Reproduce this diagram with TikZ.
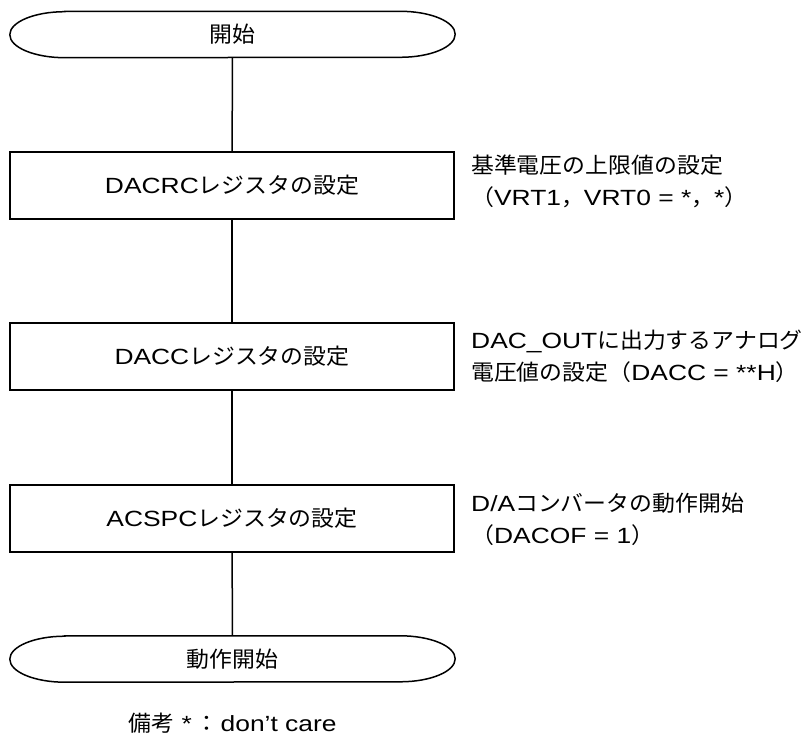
\documentclass[tikz,border=0pt]{standalone}
\usepackage{fontspec}
\setmainfont[FakeStretch=1.2]{Liberation Sans}
\newfontfamily\jpfont[FakeStretch=1.04]{Noto Sans CJK JP}
\newcommand{\jtxt}[1]{{\jpfont #1}}
\usetikzlibrary{positioning}
\tikzset{
    base/.style={font=\fontsize{22}{32}\selectfont, inner sep=0pt},
    term/.style={base, minimum width=445pt, minimum height=46pt},
    proc/.style={base, draw=black, line width=1.6pt, minimum width=444pt, minimum height=67pt},
    cmt/.style={base, anchor=west, align=left},
    flow/.style={line width=1.5pt, black}
}

\begin{document}
\begin{tikzpicture}[x=1pt, y=1pt]
        \useasboundingbox (0,0) rectangle (806,737);

        % Terminales
        \node[term] (start) at (232.5,702.5) {\jtxt{開始}};
        \node[term] (run) at (232.5,78) {\jtxt{動作開始}};
        \foreach \n in {start, run}
            \draw[flow] ([xshift=55pt]\n.north west) -- ([xshift=-55pt]\n.north east)
                arc[start angle=90, end angle=-90, x radius=55pt, y radius=23pt]
                -- ([xshift=55pt]\n.south west)
                arc[start angle=270, end angle=90, x radius=55pt, y radius=23pt] -- cycle;

        % Registros
        \node[proc] (dacrc) at (232,551.5) {DACRC\jtxt{レジスタの設定}};
        \node[proc] (dacc) at (232,380.5) {DACC\jtxt{レジスタの設定}};
        \node[proc] (acspc) at (232,218.5) {ACSPC\jtxt{レジスタの設定}};

        % Comentarios
        \node[cmt] (c1) at (471,556) {\jtxt{基準電圧の上限値の設定}\\\jtxt{（}VRT1\jtxt{，}VRT0 = *\jtxt{，}*\jtxt{）}};
        \node[cmt] (c2) at (471,381) {DAC\_OUT\jtxt{に出力するアナログ}\\\jtxt{電圧値の設定（}DACC = **H\jtxt{）}};
        \node[cmt] (c3) at (471,218) {D/A\jtxt{コンバータの動作開始}\\\jtxt{（}DACOF = 1\jtxt{）}};

        % Flujo
        \draw[flow] (start) -- (dacrc);
        \draw[flow] (dacrc) -- (dacc);
        \draw[flow] (dacc) -- (acspc);
        \draw[flow] (acspc) -- (run);

        % Nota
        \node[base] (note) at (232.5,14) {\jtxt{備考} *\hspace{4pt}\jtxt{：}\hspace{2pt}don’t care};
    \end{tikzpicture}
\end{document}
